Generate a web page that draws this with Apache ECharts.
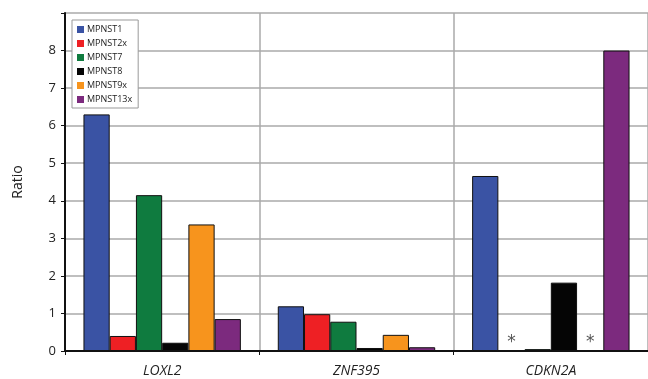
<!DOCTYPE html>
<html>
<head>
<meta charset="utf-8">
<style>
  html, body { margin: 0; padding: 0; background: #fff; }
  #chart { width: 648px; height: 379px; }
</style>
<script src="https://cdn.jsdelivr.net/npm/echarts@6/dist/echarts.min.js"></script>
</head>
<body>
<div id="chart"></div>
<script>
// Genes on the x axis
const genes = ['LOXL2', 'ZNF395', 'CDKN2A'];

// Expression ratio per tumour line (null = not determined, marked with *)
const mpnst1   = [6.30, 1.19, 4.66];
const mpnst2x  = [0.40, 0.98, null];
const mpnst7   = [4.15, 0.78, 0.05];
const mpnst8   = [0.22, 0.08, 1.82];
const mpnst9x  = [3.37, 0.43, null];
const mpnst13x = [0.85, 0.10, 8.00];

const seriesNames = ['MPNST1', 'MPNST2x', 'MPNST7', 'MPNST8', 'MPNST9x', 'MPNST13x'];
const seriesData = [mpnst1, mpnst2x, mpnst7, mpnst8, mpnst9x, mpnst13x];
const colors = ['#3A53A4', '#EE2024', '#0F7B3F', '#050505', '#F7941D', '#7C2A7E'];

const yTicks = [0, 1, 2, 3, 4, 5, 6, 7, 8];

const chart = echarts.init(document.getElementById('chart'), null, { renderer: 'canvas' });

const series = seriesNames.map((name, i) => ({
  name: name,
  type: 'bar',
  barGap: '0%',
  barCategoryGap: '19%',
  itemStyle: { color: colors[i], borderColor: '#111', borderWidth: 1 },
  data: seriesData[i].map(v => v === null
    ? {
        value: 0,
        itemStyle: { color: 'transparent', borderWidth: 0 },
        label: {
          show: true, position: 'top', distance: 0, formatter: '*',
          color: '#555', fontSize: 17, fontFamily: 'DejaVu Sans'
        }
      }
    : v)
}));

chart.setOption({
  animation: false,
  color: colors,
  grid: { left: 65, right: 0, top: 13, bottom: 28, containLabel: false },
  legend: {
    orient: 'vertical',
    left: 72, top: 20,
    padding: [5, 6, 4, 5],
    itemWidth: 7, itemHeight: 7, itemGap: 5,
    backgroundColor: '#fff',
    borderColor: '#999', borderWidth: 1,
    icon: 'rect',
    itemStyle: { borderWidth: 0 },
    textStyle: { fontSize: 9, color: '#222', fontFamily: 'Open Sans', padding: [0, 0, 0, -2] },
    data: seriesNames
  },
  xAxis: {
    type: 'category',
    data: genes,
    axisLine: { show: true, lineStyle: { color: '#111', width: 2 } },
    axisTick: { show: true, length: 4, lineStyle: { color: '#111', width: 1 } },
    axisLabel: {
      fontSize: 14, fontStyle: 'italic', color: '#222', margin: 13,
      fontFamily: 'Open Sans'
    },
    splitLine: { show: true, lineStyle: { color: '#aaa', width: 1.5 } }
  },
  yAxis: {
    type: 'value',
    min: 0, max: 9, interval: 1,
    name: 'Ratio',
    nameLocation: 'middle',
    nameGap: 40,
    nameRotate: 90,
    nameTextStyle: { fontSize: 14, color: '#222', fontFamily: 'Open Sans' },
    axisLine: { show: true, lineStyle: { color: '#111', width: 2 } },
    axisTick: { show: true, length: 4, lineStyle: { color: '#111' } },
    axisLabel: {
      fontSize: 13, color: '#222', margin: 9, fontFamily: 'Open Sans',
      formatter: v => (yTicks.indexOf(v) >= 0 ? String(v) : '')
    },
    splitLine: { show: true, lineStyle: { color: '#aaa', width: 1.5 } }
  },
  series: series
});
</script>
</body>
</html>
